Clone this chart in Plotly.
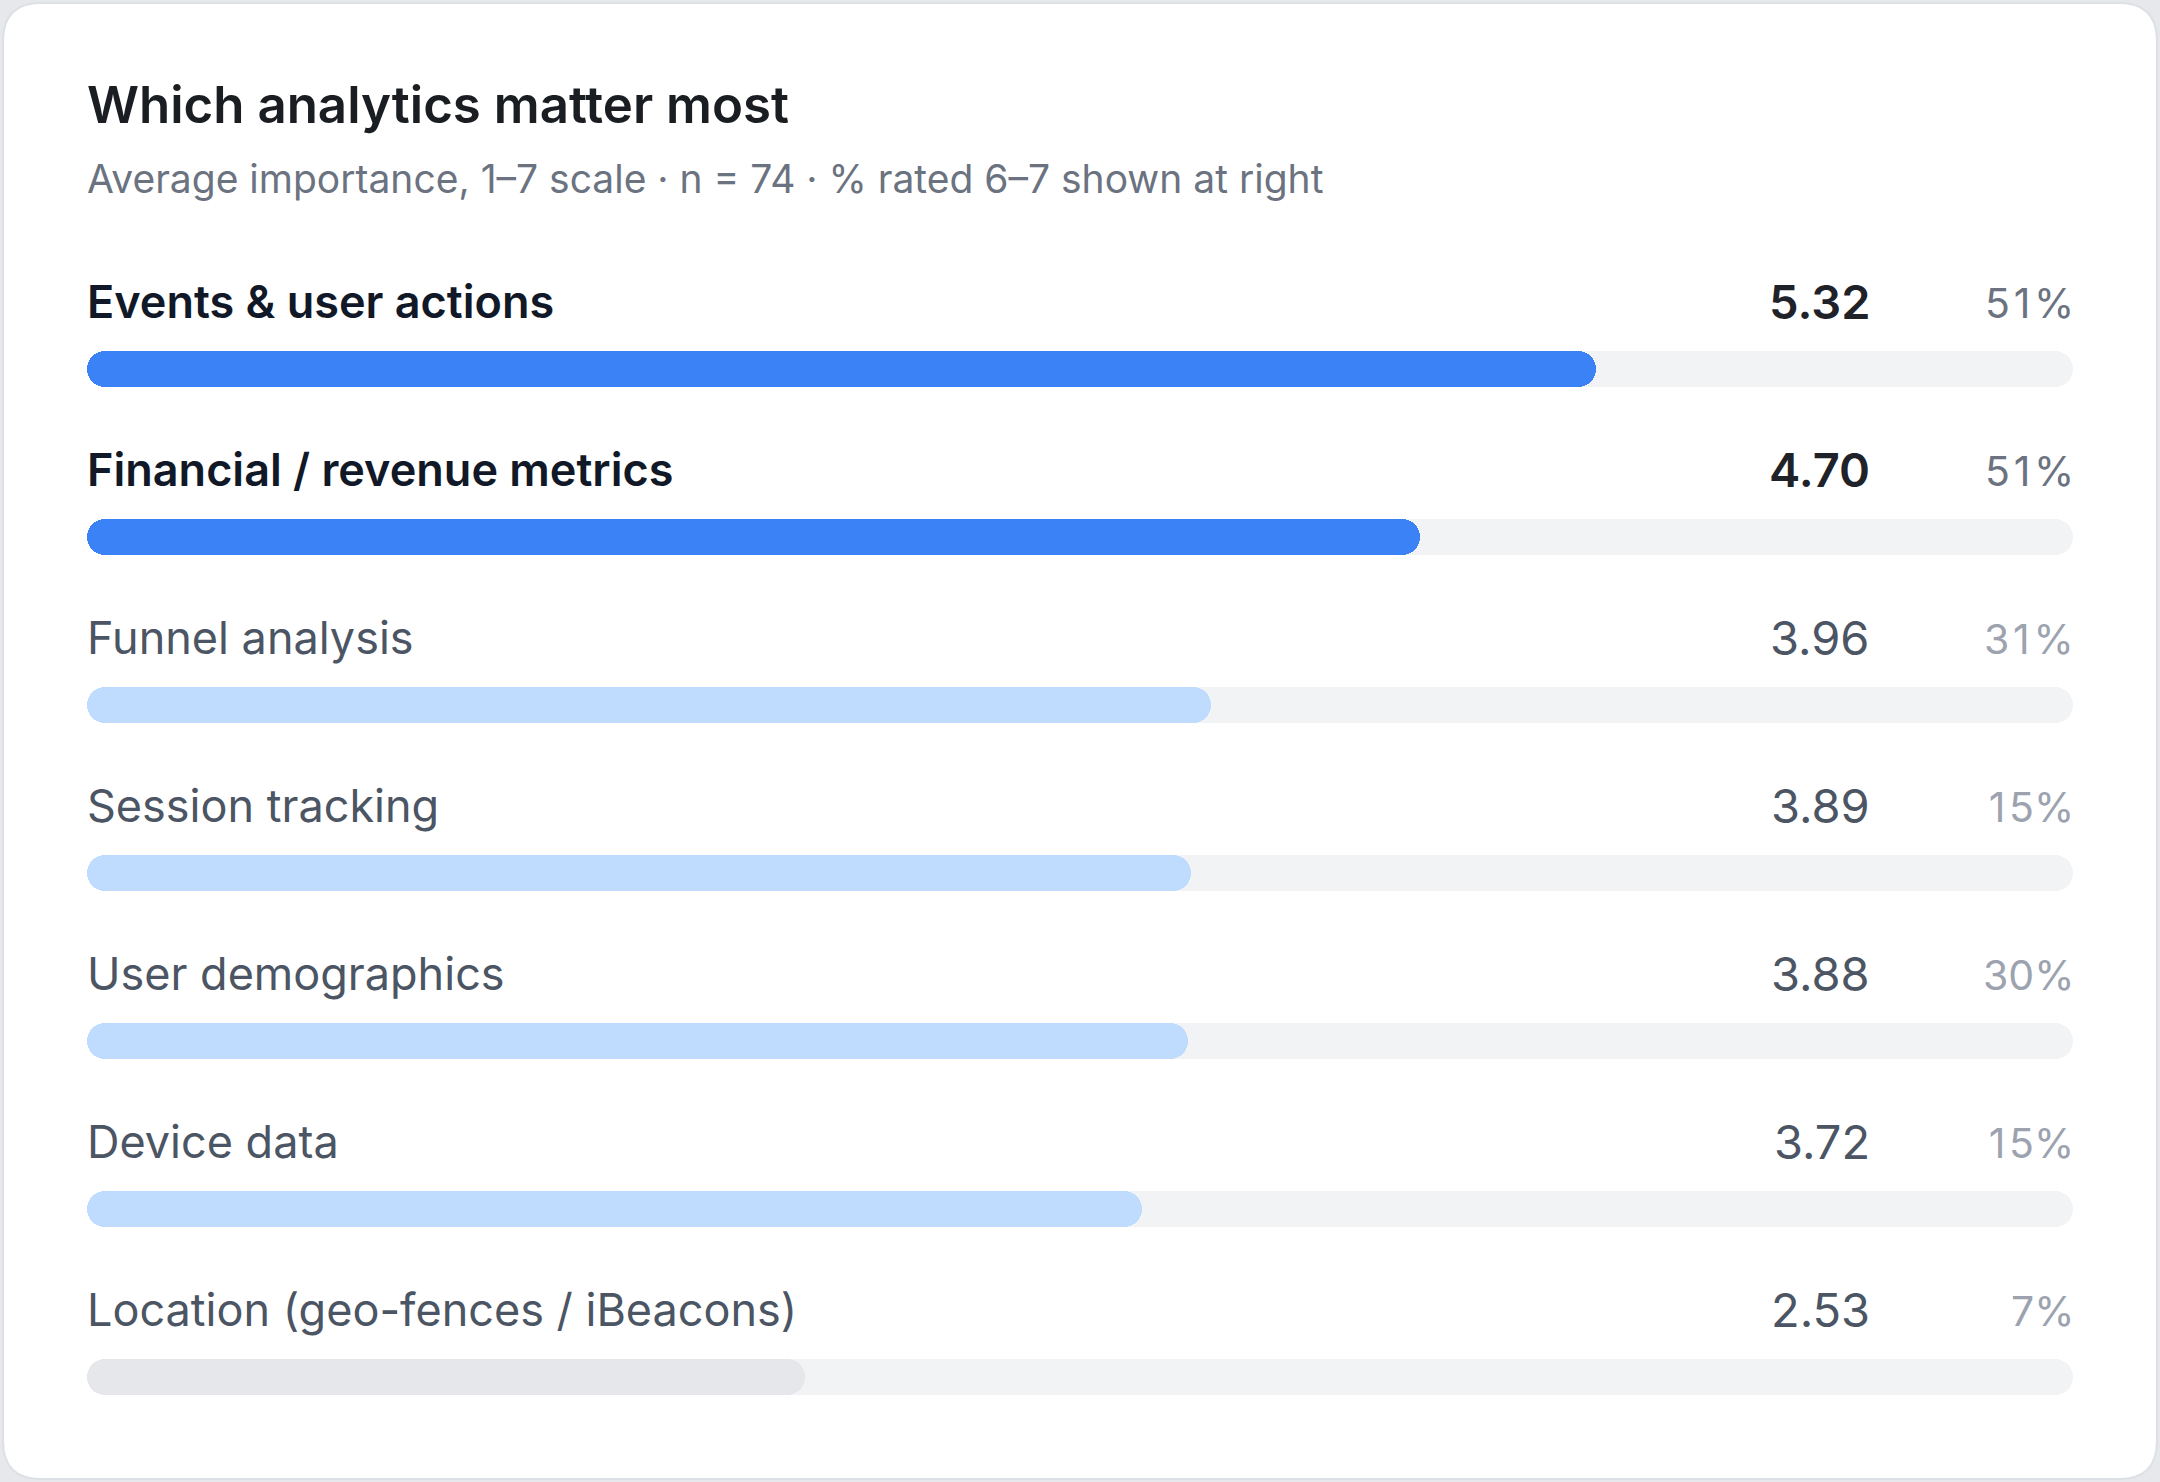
import plotly.graph_objects as go

# --- data ---
categories = [
    "Events & user actions",
    "Financial / revenue metrics",
    "Funnel analysis",
    "Session tracking",
    "User demographics",
    "Device data",
    "Location (geo-fences / iBeacons)",
]
mean_scores = [5.32, 4.70, 3.96, 3.89, 3.88, 3.72, 2.53]
pct_top2 = [51, 51, 31, 15, 30, 15, 7]
scale_max = 7

title = "Which analytics matter most"
subtitle = "Average importance, 1\u20137 scale \u00b7 n = 74 \u00b7 % rated 6\u20137 shown at right"

# --- layout constants (pixels) ---
W, H = 2160, 1482
LEFT, RIGHT = 87, 87
FIRST_BAR = 369
ROW = 168
BAR_H = 36

FONT = "Inter, Noto Sans, sans-serif"


def tier(v):
    if v >= 4.5:
        return "high"
    if v >= 3.0:
        return "mid"
    return "low"


def tab_nums(s):
    # rough stand-in for tabular figures: pad the narrow "1"
    return s.replace("1", "\u200a1\u200a")


fill_col = {"high": "#3b82f6", "mid": "#bfdbfe", "low": "#e5e7eb"}
track_col = "#f2f3f5"

ypos = list(range(len(categories)))
tiers = [tier(v) for v in mean_scores]
bw = BAR_H / ROW

fig = go.Figure()

# track (full scale); an explicit base makes plotly round both ends
fig.add_trace(go.Bar(
    y=ypos, x=[scale_max] * len(ypos), base=[0] * len(ypos),
    orientation="h", width=bw, marker=dict(color=track_col, cornerradius="50%", line_width=0),
    hoverinfo="skip", showlegend=False,
))

# value bars
fig.add_trace(go.Bar(
    y=ypos, x=mean_scores, base=[0] * len(ypos),
    orientation="h", width=bw,
    marker=dict(color=[fill_col[t] for t in tiers], cornerradius="50%", line_width=0),
    customdata=categories, hovertemplate="%{customdata}: %{x:.2f}<extra></extra>", showlegend=False,
))

ann = []
for i, (lab, v, p, t) in enumerate(zip(categories, mean_scores, pct_top2, tiers)):
    hi = t == "high"
    ann.append(dict(
        x=0, y=i, xref="x", yref="y", xanchor="left", yanchor="middle", yshift=68, xshift=-2,
        text=lab, showarrow=False,
        font=dict(family=FONT, size=45, color="#111827" if hi else "#4b5563",
                  weight=600 if hi else 400),
    ))
    ann.append(dict(
        x=(1868 - LEFT) / (W - LEFT - RIGHT), y=i, xref="paper", yref="y",
        xanchor="right", yanchor="middle", yshift=68, xshift=4,
        text=f"{v:.2f}", showarrow=False,
        font=dict(family=FONT, size=47, color="#1f2329" if hi else "#4b5563",
                  weight=600 if hi else 400),
    ))
    ann.append(dict(
        x=1, y=i, xref="paper", yref="y", xanchor="right", yanchor="middle", yshift=66, xshift=3,
        text=tab_nums(f"{p}%"), showarrow=False,
        font=dict(family=FONT, size=41, color="#6b7280" if hi else "#9ca3af"),
    ))

ann.append(dict(
    x=0, y=1 - 105 / H, xref="paper", yref="paper", xanchor="left", yanchor="middle", xshift=-2,
    text=title, showarrow=False,
    font=dict(family=FONT, size=51, color="#1a1d21", weight=600),
))
ann.append(dict(
    x=0, y=1 - 179 / H, xref="paper", yref="paper", xanchor="left", yanchor="middle", xshift=-2,
    text=subtitle, showarrow=False,
    font=dict(family=FONT, size=39, color="#6b7280"),
))

# card background with rounded corners
cx = (W / 2 - LEFT) / (W - LEFT - RIGHT)
hw, hh, r = W / 2 - 3, H / 2 - 3, 38
card = (f"M {-hw + r},{-hh} L {hw - r},{-hh} Q {hw},{-hh} {hw},{-hh + r} "
        f"L {hw},{hh - r} Q {hw},{hh} {hw - r},{hh} L {-hw + r},{hh} "
        f"Q {-hw},{hh} {-hw},{hh - r} L {-hw},{-hh + r} Q {-hw},{-hh} {-hw + r},{-hh} Z")

fig.update_layout(
    width=W, height=H,
    margin=dict(l=LEFT, r=RIGHT, t=0, b=0, pad=0),
    paper_bgcolor="#e6e8eb",
    plot_bgcolor="rgba(0,0,0,0)",
    barmode="overlay",
    bargap=0,
    xaxis=dict(range=[0, scale_max], visible=False, fixedrange=True),
    yaxis=dict(range=[(H - FIRST_BAR) / ROW, -FIRST_BAR / ROW], visible=False, fixedrange=True),
    annotations=ann,
    shapes=[dict(
        type="path", path=card, xref="paper", yref="paper",
        xsizemode="pixel", ysizemode="pixel", xanchor=cx, yanchor=0.5,
        fillcolor="white", line=dict(color="#dde0e4", width=2), layer="below",
    )],
    font=dict(family=FONT),
)

fig.write_html("out.html", config={"displayModeBar": False},
               post_script="document.body.style.margin='0';")
